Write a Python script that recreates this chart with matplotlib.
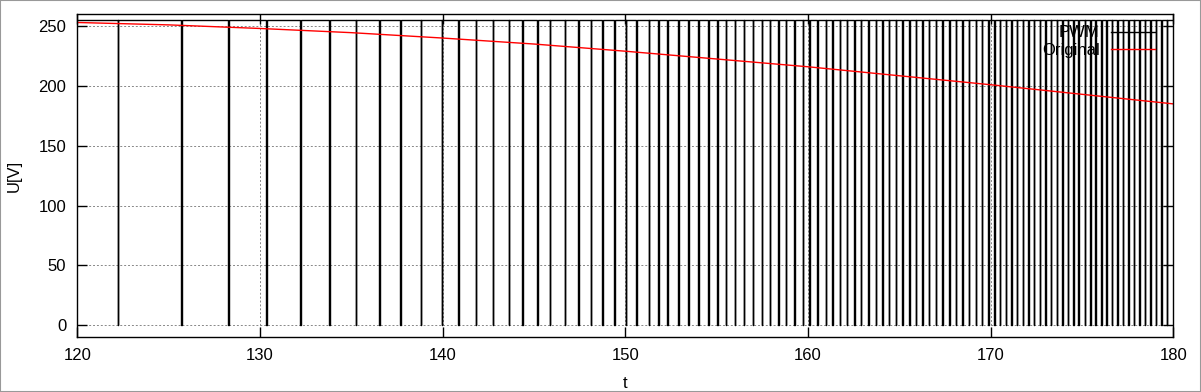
import matplotlib
matplotlib.use("Agg")
import matplotlib.pyplot as plt
import numpy as np
from matplotlib.patches import Rectangle

# ---- data ----
pulse_times = [
    122.23, 125.71, 128.26, 130.36, 132.22, 133.79, 135.25, 136.53, 137.70, 138.80,
    139.95, 140.85, 141.82, 142.74, 143.63, 144.36, 145.20, 145.88, 146.70, 147.43,
    148.11, 148.74, 149.40, 150.02, 150.62, 151.30, 151.81, 152.30, 152.90, 153.45,
    154.00, 154.55, 155.04, 155.51, 156.01, 156.50, 156.98, 157.47, 157.92, 158.38,
    158.80, 159.26, 159.72, 160.08, 160.52, 160.98, 161.34, 161.76, 162.12, 162.54,
    162.91, 163.31, 163.71, 164.07, 164.44, 164.81, 165.17, 165.54, 165.90, 166.27,
    166.63, 167.00, 167.36, 167.73, 168.09, 168.46, 168.82, 169.19, 169.52, 169.88,
    170.21, 170.52, 170.83, 171.13, 171.44, 171.76, 172.06, 172.36, 172.69, 172.99,
    173.29, 173.62, 173.92, 174.22, 174.52, 174.82, 175.15, 175.45, 175.75, 176.05,
    176.35, 176.65, 176.95, 177.25, 177.55, 177.85, 178.15, 178.45, 178.75, 179.05,
    179.35, 179.65,
]
pwm_high = 255
pwm_low = 0
pulse_width = 0.03

orig_t = [120, 125, 130, 135, 140, 145, 150, 155, 160, 165, 170, 175, 180]
orig_u = [253, 251, 248, 244.5, 240, 235, 229, 222.5, 216, 208.5, 201, 193, 185]

x_ticks = [120, 130, 140, 150, 160, 170, 180]
y_ticks = [0, 50, 100, 150, 200, 250]

# ---- build PWM step signal ----
px, py = [120.0], [pwm_high]
for t in pulse_times:
    a, b = t - pulse_width / 2, t + pulse_width / 2
    px += [a, a, b, b]
    py += [pwm_high, pwm_low, pwm_low, pwm_high]
px.append(180.0)
py.append(pwm_high)

plt.rcParams['font.family'] = ['Liberation Sans', 'DejaVu Sans']

fig = plt.figure(figsize=(12.01, 3.92), dpi=100)
ax = fig.add_axes([0.0645, 0.1395, 0.977 - 0.0645, 0.964 - 0.1395])

ax.plot(px, py, color='black', lw=1.0, label='PWM', zorder=3)
ax.plot(orig_t, orig_u, color='red', lw=1.0, label='Original', zorder=4)

ax.set_xlim(120, 180)
ax.set_ylim(-10, 260)
ax.set_xticks(x_ticks)
ax.set_yticks(y_ticks)
ax.tick_params(direction='in', length=7, width=1, top=True, right=True,
               labelsize=12, pad=8, colors='black')
ax.grid(True, color='#888888', linestyle=(0, (2, 2)), linewidth=0.7, zorder=0)
for s in ax.spines.values():
    s.set_linewidth(1.0)
    s.set_zorder(5)

ax.set_xlabel('t', fontsize=12, labelpad=9)
ax.set_ylabel('U[V]', fontsize=12, labelpad=12)

leg = ax.legend(loc='upper right', frameon=False, markerfirst=False,
                fontsize=12, handlelength=2.6, handletextpad=0.7,
                borderaxespad=0.0, borderpad=0.0, labelspacing=0.15,
                bbox_to_anchor=(0.983, 0.965))
for t in leg.get_texts():
    t.set_ha('right')
leg.set_zorder(6)

fig.add_artist(Rectangle((0, 0), 1, 1, transform=fig.transFigure,
                         fill=False, edgecolor='#999999', lw=1.5))

fig.savefig('out.png', dpi=100)
